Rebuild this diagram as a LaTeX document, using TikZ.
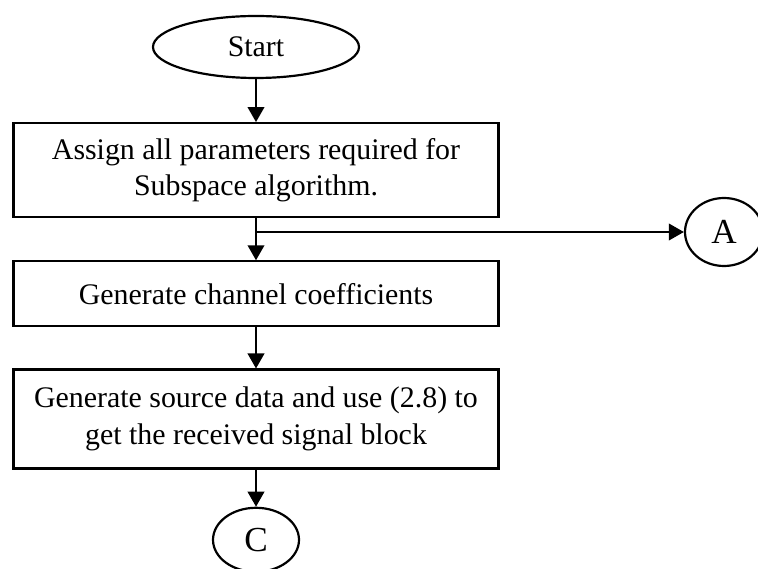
\documentclass[tikz,border=0pt]{standalone}
\usepackage{fontspec}
\setmainfont{Liberation Serif}
\usetikzlibrary{shapes.geometric, arrows.meta, positioning}

\begin{document}
\begin{tikzpicture}[
    node distance=0.84cm,
    every node/.style={font=\fontsize{17}{21}\selectfont},
    terminal/.style={ellipse, draw, line width=1.25pt, minimum width=4.12cm, minimum height=1.24cm, inner sep=0pt},
    process/.style={rectangle, draw, line width=1.25pt, minimum width=9.7cm, align=center, inner sep=0pt},
    connector/.style={ellipse, draw, line width=1.25pt, inner sep=0pt, font=\fontsize{20}{24}\selectfont},
    arrow/.style={-{Triangle[length=3mm, width=3.3mm]}, line width=1.25pt}
]
\useasboundingbox (0,0) rectangle (15.16,-11.38);

% start of the flow
\node[terminal] (start) at (5.12,-0.94) {Start};

% main chain of steps
\node[process, minimum height=1.88cm, below=0.86cm of start] (assign) {Assign all parameters required for\\Subspace algorithm.};
\node[process, minimum height=1.3cm, below=of assign] (channel) {Generate channel coefficients};
\node[process, minimum height=1.98cm, below=0.82cm of channel] (source) {Generate source data and use (2.8) to\\get the received signal block};

% off-page connectors
\node[connector, minimum width=1.72cm, minimum height=1.28cm, below=0.74cm of source] (conC) {C};
\node[connector, minimum width=1.56cm, minimum height=1.36cm] (conA) at (14.48,-4.64) {A};
\coordinate (split) at (assign.south |- conA.west);

% arrows
\draw[arrow] (start) -- (assign);
\draw[arrow] (assign) -- (channel);
\draw[arrow] (split) -- (conA);
\draw[arrow] (channel) -- (source);
\draw[arrow] (source) -- (conC);

\end{tikzpicture}
\end{document}
